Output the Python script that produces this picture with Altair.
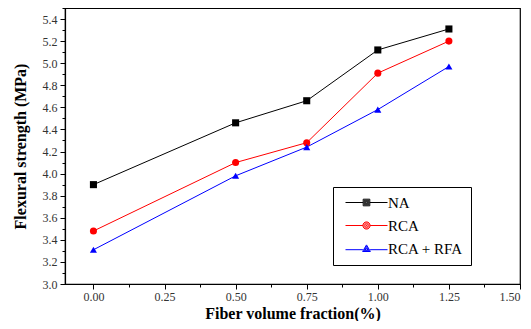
import altair as alt
import pandas as pd

fractions = [0.0, 0.5, 0.75, 1.0, 1.25]
series = ["NA", "RCA", "RCA + RFA"]
na_vals = [3.90, 4.46, 4.66, 5.12, 5.31]
rca_vals = [3.48, 4.10, 4.28, 4.91, 5.20]
rfa_vals = [3.31, 3.98, 4.24, 4.58, 4.97]
colors = ["#000000", "#ff0000", "#0000ff"]
shapes = ["square", "circle", "triangle-up"]
# legend glyphs: line segment with a (concentric-stroked) marker in the middle
legend_shapes = [
    "M-7,0H-1.1M1.1,0H7"
    "M-1.1,-1.1H1.1V1.1H-1.1Z"
    "M-0.75,-0.75H0.75V0.75H-0.75Z"
    "M-0.4,-0.4H0.4V0.4H-0.4Z"
    "M-0.1,0H0.1",
    "M-7,0H-1.2M1.2,0H7"
    "M-1.2,0A1.2,1.2,0,1,1,1.2,0A1.2,1.2,0,1,1,-1.2,0Z"
    "M-0.85,0A0.85,0.85,0,1,1,0.85,0A0.85,0.85,0,1,1,-0.85,0Z"
    "M-0.5,0A0.5,0.5,0,1,1,0.5,0A0.5,0.5,0,1,1,-0.5,0Z"
    "M-0.15,0H0.15",
    "M-7,0.4H-1.2M1.2,0.4H7"
    "M0,-1.2L1.3,1H-1.3Z"
    "M0,-0.7L0.86,0.75H-0.86Z"
    "M0,-0.22L0.43,0.51H-0.43Z",
]
x_major = [0.0, 0.25, 0.5, 0.75, 1.0, 1.25, 1.5]
x_minor = [-0.125 + 0.125 * i for i in range(14)]
y_major = [round(3.0 + 0.2 * i, 1) for i in range(13)]
y_minor = [round(3.0 + 0.1 * i, 1) for i in range(26)]

rows = []
for s, vals in zip(series, [na_vals, rca_vals, rfa_vals]):
    for f, v in zip(fractions, vals):
        rows.append({"fraction": f, "strength": v, "series": s, "key": s})
df = pd.DataFrame(rows)

font = "Liberation Serif"
xscale = alt.Scale(domain=[-0.1, 1.5], nice=False, zero=False)
yscale = alt.Scale(domain=[3.0, 5.5], nice=False, zero=False)

legend = alt.Legend(
    title=None, orient="none", legendX=268, legendY=179,
    labelFont=font, labelFontSize=15, labelColor="#000",
    labelOffset=14, symbolOffset=18, rowPadding=7, padding=8,
    strokeColor="#000", fillColor="white", symbolSize=36, labelLimit=200,
    symbolStrokeWidth=1, symbolOpacity=1,
)

lines = alt.Chart(df).mark_line(strokeWidth=1).encode(
    x=alt.X("fraction:Q", scale=xscale, axis=alt.Axis(
        values=x_major, format=".2f", title="Fiber volume fraction(%)",
        orient="bottom", tickSize=5, grid=False, titlePadding=3)),
    y=alt.Y("strength:Q", scale=yscale, axis=alt.Axis(
        values=y_major, format=".1f", title="Flexural strength (MPa)",
        orient="left", tickSize=5, grid=False, titlePadding=14, labelPadding=3)),
    color=alt.Color("series:N", scale=alt.Scale(domain=series, range=colors), legend=None),
    detail="series:N",
)

points = alt.Chart(df).mark_point(filled=True, opacity=1, size=50).encode(
    x=alt.X("fraction:Q", scale=xscale, axis=alt.Axis(
        values=x_minor, labels=False, title=None, orient="bottom",
        tickSize=3, domain=False, grid=False)),
    y=alt.Y("strength:Q", scale=yscale, axis=alt.Axis(
        values=y_minor, labels=False, title=None, orient="left",
        tickSize=3, domain=False, grid=False)),
    color=alt.Color("series:N", scale=alt.Scale(domain=series, range=colors), legend=None),
    shape=alt.Shape("series:N", scale=alt.Scale(domain=series, range=shapes), legend=None),
)

legend_layer = alt.Chart(df).mark_point(filled=False, opacity=0, size=36, strokeWidth=1).encode(
    x=alt.X("fraction:Q", scale=xscale, axis=None),
    y=alt.Y("strength:Q", scale=yscale, axis=None),
    color=alt.Color("key:N", scale=alt.Scale(domain=series, range=colors), legend=legend),
    shape=alt.Shape("key:N", scale=alt.Scale(domain=series, range=legend_shapes), legend=legend),
)

chart = alt.layer(lines, points, legend_layer).resolve_scale(
    shape="independent", color="independent"
).resolve_axis(x="independent", y="independent").properties(
    width=455, height=276,
    autosize=alt.AutoSizeParams(type="none"),
    padding={"left": 57, "top": 0, "right": 3, "bottom": 37},
).configure_view(stroke="#000", strokeWidth=1.2).configure_axis(
    domainColor="#000", tickColor="#000", domainWidth=1.2, tickWidth=1,
    labelFont=font, labelFontSize=12, labelColor="#333",
    titleFont=font, titleFontSize=16, titleFontWeight="bold", titleColor="#000",
)

chart.save("out.html", embed_options={"renderer": "svg", "actions": False})
